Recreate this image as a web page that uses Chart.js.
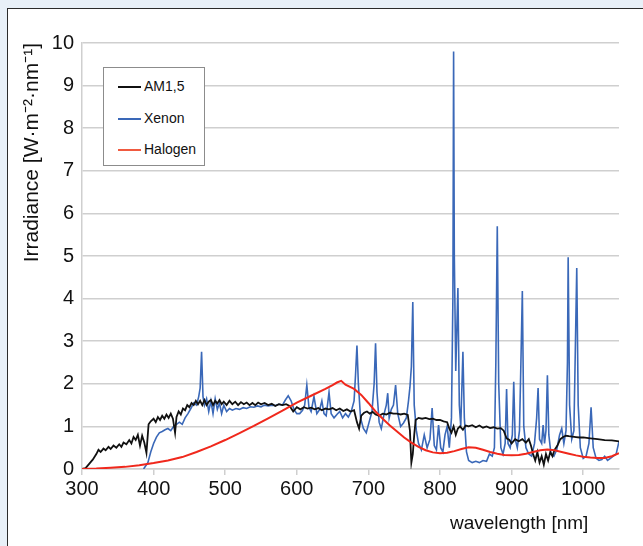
<!DOCTYPE html>
<html>
<head>
<meta charset="utf-8">
<script src="https://cdn.jsdelivr.net/npm/chart.js@4.4.0/dist/chart.umd.min.js"></script>
<style>
    html, body { margin: 0; padding: 0; }
    body { width: 643px; height: 546px; background: #e8f0f8; position: relative; overflow: hidden;
           font-family: "Liberation Sans", sans-serif; color: #111; }
    .panel { position: absolute; left: 7px; top: 8px; width: 700px; height: 600px; background: #fff;
             border: 1.5px solid #2b2b2b; }
    #chart { position: absolute; left: 0; top: 0; }
    .legend { position: absolute; left: 103px; top: 67px; width: 102px; height: 99px; box-sizing: border-box;
              border: 1px solid #8c8c8c; background: #fff; }
    .legend-item { position: absolute; left: 14px; height: 16px; line-height: 16px; font-size: 14px; white-space: nowrap; }
    .legend-item i { display: inline-block; width: 23px; height: 2px; vertical-align: middle; margin-right: 3px; }
    .x-title { position: absolute; left: 450px; top: 512px; font-size: 19px; white-space: nowrap; }
</style>
</head>
<body>
<div class="panel"></div>
<canvas id="chart" width="643" height="546"></canvas>
<div class="legend">
    <div class="legend-item" style="top:10px"><i style="background:#111"></i>AM1,5</div>
    <div class="legend-item" style="top:42px"><i style="background:#3a68b8"></i>Xenon</div>
    <div class="legend-item" style="top:73px"><i style="background:#f05a40"></i>Halogen</div>
</div>
<div class="x-title">wavelength [nm]</div>

<script>
(function () {
    'use strict';

    /* ---- Data (wavelength in nm, irradiance in W/m2/nm) ---- */
    var xRange = [300, 1050];
    var yRange = [0, 10];

    var am15Wl = [
        300, 305, 310, 315, 320, 323, 326, 330, 333, 337, 340, 344, 348, 352, 355, 358, 362, 366, 369, 372, 375, 378, 381, 384, 387, 390,
        393, 396, 400, 403, 406, 409, 412, 415, 418, 421, 424, 427, 430, 432, 435, 438, 441, 444, 447, 450, 453, 456, 459, 462, 465, 468, 471, 474, 477, 480, 483, 486, 489, 492, 495, 498,
        502, 506, 510, 514, 518, 522, 526, 530, 534, 538, 542, 546, 550, 555, 560, 565, 570, 575, 580, 585, 590, 595, 600, 605, 610, 615, 620, 625, 630, 635, 640, 645, 650, 655, 660, 665, 670, 675, 680,
        684, 687, 690, 694, 698, 702, 706, 710, 715, 720, 725, 730, 735, 740, 745, 750, 755, 758, 760, 762, 764, 766, 770, 775, 780, 785, 790, 795, 800,
        805, 810, 813, 816, 819, 822, 825, 828, 832, 836, 840, 845, 850, 855, 860, 865, 870, 875, 880, 885, 889, 893, 897, 900, 905, 910, 915, 920, 924, 927,
        930, 933, 936, 939, 942, 945, 948, 951, 954, 957, 960, 964, 968, 972, 976, 980, 985, 990, 995, 1000, 1010, 1020, 1030, 1040, 1050
    ];
    var am15Val = [
        0, 0.02, 0.12, 0.22, 0.35, 0.45, 0.4, 0.48, 0.44, 0.52, 0.47, 0.55, 0.5, 0.58, 0.52, 0.62, 0.58, 0.68, 0.6, 0.75, 0.68, 0.8, 0.55, 0.78, 0.62, 0.38,
        1.05, 1.12, 1.18, 1.1, 1.22, 1.15, 1.25, 1.18, 1.28, 1.2, 1.3, 1.18, 0.85, 1.22, 1.35, 1.28, 1.42, 1.38, 1.5, 1.45, 1.55, 1.5, 1.6, 1.52, 1.6, 1.5, 1.62, 1.5, 1.58, 1.62, 1.5, 1.6, 1.54, 1.62, 1.52, 1.58,
        1.5, 1.6, 1.52, 1.58, 1.5, 1.57, 1.52, 1.56, 1.5, 1.55, 1.5, 1.56, 1.52, 1.55, 1.5, 1.53, 1.48, 1.52, 1.5, 1.52, 1.48, 1.35, 1.45, 1.4, 1.45, 1.42, 1.44, 1.4, 1.43, 1.38, 1.42, 1.4, 1.43, 1.38, 1.42, 1.36, 1.4, 1.35, 1.38,
        1.1, 0.95, 1.25, 1.32, 1.35, 1.3, 1.34, 1.28, 1.25, 1.3, 1.28, 1.32, 1.3, 1.3, 1.28, 1.3, 1.27, 0.9, 0.15, 0.35, 0.8, 1.15, 1.2, 1.18, 1.2, 1.17, 1.18, 1.15, 1.15,
        1.12, 1.1, 0.95, 0.85, 1.0, 0.8, 0.95, 1.0, 0.92, 1.02, 1.0, 1.03, 0.98, 1.02, 0.97, 1.0, 0.96, 0.98, 0.95, 0.96, 0.9, 0.72, 0.68, 0.6, 0.7, 0.65, 0.7, 0.62, 0.7, 0.55,
        0.35, 0.2, 0.4, 0.15, 0.3, 0.1, 0.35, 0.2, 0.4, 0.3, 0.45, 0.55, 0.7, 0.75, 0.78, 0.77, 0.76, 0.75, 0.74, 0.74, 0.72, 0.7, 0.68, 0.67, 0.65
    ];

    var xenonWl = [
        386, 392, 396, 400, 404, 408, 412, 416, 420, 424, 428, 432, 436, 440, 444, 448, 452, 456, 460,
        463, 465, 467, 469, 471, 474, 477, 480, 483, 486, 489, 492, 495, 498, 502, 506, 510, 515, 520, 525, 530, 535, 540, 545, 550, 555, 560, 565, 570, 575, 580, 584, 588, 592, 596, 600,
        604, 608, 611, 614, 617, 620, 624, 628, 632, 635, 638, 641, 645, 648, 652, 656, 660, 664, 668, 672, 676, 680, 682, 684, 686, 689, 693, 697, 701,
        705, 708, 710, 712, 715, 718, 722, 725, 727, 729, 732, 735, 738, 741, 745, 749, 753, 756, 758, 760, 762, 764, 767, 770, 774, 778, 782, 786, 789, 792, 795, 798, 801, 804, 807, 810, 813, 816,
        818, 819, 820, 822, 825, 827, 829, 832, 834, 837, 840, 845, 850, 855, 860, 865, 869, 873, 876, 878, 880, 882, 885, 888,
        891, 893, 895, 898, 901, 903, 905, 908, 911, 913, 915, 917, 920, 924, 928, 932, 935, 937, 939, 942, 944, 946, 948, 950, 952, 955, 959, 963, 967, 970,
        973, 976, 978, 979, 981, 984, 987, 989, 991, 993, 996, 1000, 1004, 1008, 1011, 1014, 1018, 1022, 1026, 1030, 1034, 1038, 1042, 1046, 1050
    ];
    var xenonVal = [
        0, 0.15, 0.4, 0.6, 0.75, 0.85, 0.88, 0.92, 0.95, 0.9, 1.0, 1.05, 1.1, 1.05, 1.2, 1.3, 1.42, 1.55, 1.5,
        1.7, 1.9, 2.75, 1.7, 1.5, 1.65, 1.35, 1.6, 1.3, 1.65, 1.4, 1.55, 1.3, 1.5, 1.35, 1.42, 1.38, 1.42, 1.4, 1.44, 1.42, 1.46, 1.45, 1.48, 1.46, 1.5, 1.48, 1.5, 1.49, 1.52, 1.5, 1.62, 1.72, 1.6, 1.4, 1.3,
        1.3, 1.38, 1.5, 1.97, 1.45, 1.35, 1.7, 1.3, 1.4, 1.6, 1.3, 1.25, 1.8, 1.3, 1.2, 1.28, 1.35, 1.2, 1.3, 1.22, 1.35, 1.6, 2.2, 2.9, 2.0, 1.2, 0.95, 0.85, 1.1,
        1.35, 2.0, 2.95, 1.8, 1.1, 0.95, 1.3, 1.5, 1.78, 1.2, 1.4, 1.5, 1.97, 1.3, 1.0, 1.08, 1.2, 1.6, 1.92, 2.4, 3.92, 1.5, 0.9, 0.6, 0.45, 0.8, 0.5, 0.7, 1.43, 0.55, 0.45, 1.03, 0.5, 0.4, 0.8, 1.0, 0.5, 1.2,
        4.0, 9.8, 5.0, 2.3, 4.25, 1.5, 1.0, 2.75, 1.2, 0.4, 0.2, 0.15, 0.18, 0.15, 0.2, 0.18, 0.35, 0.3, 0.5, 2.5, 5.7, 2.0, 0.5, 0.35,
        0.6, 1.88, 0.6, 0.5, 0.8, 2.05, 0.7, 0.5, 0.9, 2.5, 4.18, 1.0, 0.5, 0.35, 0.3, 0.6, 1.2, 1.9, 0.7, 0.6, 1.03, 0.6, 0.9, 2.2, 0.8, 0.35, 0.3, 0.45, 0.8, 0.95,
        0.6, 0.9, 2.5, 4.97, 1.5, 0.7, 0.9, 2.8, 4.72, 1.5, 0.5, 0.25, 0.3, 0.6, 1.45, 0.5, 0.25, 0.2, 0.22, 0.3, 0.2, 0.25, 0.3, 0.35, 0.65
    ];

    var halogenWl = [
        300, 320, 340, 360, 380, 400, 420, 440, 460, 480, 500, 520, 540, 560, 580, 600, 620, 640, 650, 656, 662, 668, 680, 690, 700,
        710, 720, 730, 740, 750, 760, 770, 780, 790, 800, 810, 820, 830, 840, 850, 860, 870, 880, 890, 900,
        910, 920, 930, 940, 950, 960, 970, 980, 990, 1000, 1010, 1020, 1030, 1040, 1050
    ];
    var halogenVal = [
        0, 0.01, 0.03, 0.05, 0.09, 0.14, 0.2, 0.28, 0.4, 0.53, 0.68, 0.84, 1.01, 1.19, 1.37, 1.56, 1.72, 1.88, 1.97, 2.03, 2.07, 1.98, 1.88, 1.74, 1.55,
        1.35, 1.18, 1.02, 0.88, 0.74, 0.62, 0.52, 0.44, 0.39, 0.37, 0.38, 0.42, 0.47, 0.51, 0.5, 0.45, 0.4, 0.36, 0.33, 0.32,
        0.33, 0.36, 0.4, 0.44, 0.46, 0.44, 0.4, 0.36, 0.32, 0.29, 0.27, 0.26, 0.26, 0.3, 0.37
    ];

    var FONT = '"Liberation Sans", sans-serif';
    var GRID = '#cfcfcf';

    function toPoints(xs, ys) {
        return xs.map(function (x, i) { return { x: x, y: ys[i] }; });
    }

    function lineSet(label, xs, ys, color, width, order) {
        return {
            label: label,
            data: toPoints(xs, ys),
            borderColor: color,
            borderWidth: width,
            pointRadius: 0,
            tension: 0,
            fill: false,
            order: order
        };
    }

    // plain numbers, no thousands separator
    function plain(v) { return String(v); }

    /* ---- Chart ---- */
    new Chart(document.getElementById('chart'), {
        type: 'line',
        data: {
            datasets: [
                lineSet('AM1,5', am15Wl, am15Val, '#111111', 1.8, 1),
                lineSet('Xenon', xenonWl, xenonVal, '#3a68b8', 1.6, 2),
                lineSet('Halogen', halogenWl, halogenVal, '#f0281c', 2, 0)
            ]
        },
        options: {
            responsive: false,
            animation: false,
            layout: { padding: { top: 43, right: 24, bottom: 0, left: 0 } },
            plugins: { legend: { display: false }, tooltip: { enabled: false } },
            scales: {
                x: {
                    type: 'linear',
                    min: xRange[0],
                    max: xRange[1],
                    ticks: { stepSize: 100, includeBounds: false, padding: 2, color: '#111', callback: plain, font: { family: FONT, size: 20 } },
                    grid: { drawOnChartArea: false, drawTicks: true, tickLength: 6, color: GRID, lineWidth: 1.5 },
                    border: { color: GRID, width: 1.5 },
                    afterFit: function (s) { s.height = 77; }
                },
                y: {
                    min: yRange[0],
                    max: yRange[1],
                    ticks: { stepSize: 1, padding: 8, color: '#111', callback: plain, font: { family: FONT, size: 20 } },
                    grid: { color: GRID, lineWidth: 1.5, drawTicks: false },
                    border: { color: GRID, width: 1.5 },
                    title: {
                        display: true,
                        text: 'Irradiance [W\u00b7m\u207b\u00b2\u00b7nm\u207b\u00b9]',
                        align: 'end',
                        color: '#111',
                        padding: { top: 20, bottom: 0 },
                        font: { family: FONT, size: 21 }
                    },
                    afterFit: function (s) { s.width = 82; }
                }
            }
        }
    });
})();
</script>
</body>
</html>
